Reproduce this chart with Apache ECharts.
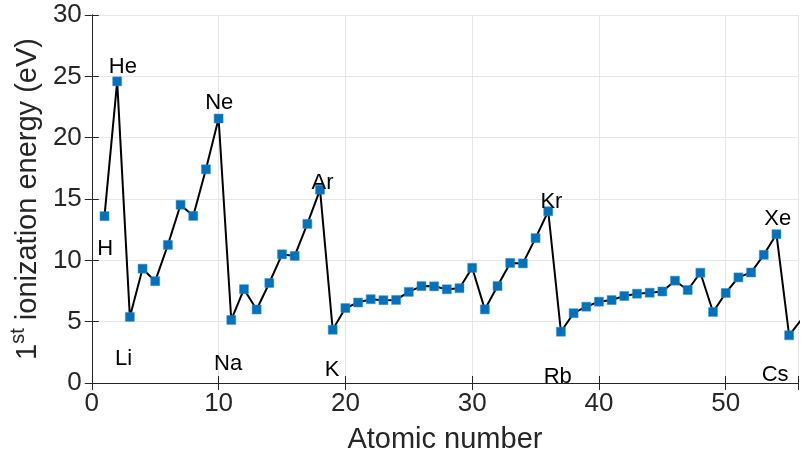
<!DOCTYPE html>
<html>
<head>
<meta charset="utf-8">
<script src="https://cdn.jsdelivr.net/npm/echarts@6/dist/echarts.min.js"></script>
<style>
  html, body { margin: 0; padding: 0; background: #fff; }
  #chart { width: 801px; height: 459px; }
</style>
</head>
<body>
<div id="chart"></div>
<script>
// atomic numbers and first ionization energies (eV)
const atomicNumbers = [1,2,3,4,5,6,7,8,9,10,11,12,13,14,15,16,17,18,19,20,21,22,23,24,25,26,27,28,
  29,30,31,32,33,34,35,36,37,38,39,40,41,42,43,44,45,46,47,48,49,50,51,52,53,54,55,56];
const energies = [13.60,24.59,5.39,9.32,8.30,11.26,14.53,13.62,17.42,21.56,5.14,7.65,5.99,8.15,10.49,
  10.36,12.97,15.76,4.34,6.11,6.56,6.83,6.75,6.77,7.43,7.90,7.88,7.64,7.73,9.39,6.00,7.90,9.79,9.75,
  11.81,14.00,4.18,5.69,6.22,6.63,6.76,7.09,7.28,7.36,7.46,8.34,7.58,8.99,5.79,7.34,8.61,9.01,10.45,
  12.13,3.89,5.21];
// element labels and where they are written (atomic number, eV)
const labelNames = ['H','He','Li','Ne','Na','Ar','K','Kr','Rb','Xe','Cs'];
const labelX = [1.05, 2.45, 2.5, 10.05, 10.75, 18.2, 18.95, 36.25, 36.75, 54.1, 53.9];
const labelY = [10.9, 25.75, 1.95, 22.85, 1.55, 16.3, 1.05, 14.8, 0.5, 13.4, 0.65];

const xTicks = [0, 10, 20, 30, 40, 50];
const yTicks = [0, 5, 10, 15, 20, 25, 30];

const font = 'Liberation Sans, Arial, Helvetica, sans-serif';
const axisColor = '#262626';

let myChart = echarts.init(document.getElementById('chart'));

let lineData = atomicNumbers.map(function (n, i) { return [n, energies[i]]; });
let labelData = labelNames.map(function (s, i) { return [labelX[i], labelY[i], s]; });

let option = {
  animation: false,
  backgroundColor: '#fff',
  grid: { left: 90, right: 0, top: 15, bottom: 71, containLabel: false },
  xAxis: [{
    type: 'value', min: 0, max: 55.7, interval: 10,
    name: 'Atomic number', nameLocation: 'middle', nameGap: 42,
    nameTextStyle: { fontFamily: font, fontSize: 29, color: axisColor },
    axisLine: { show: true, lineStyle: { color: axisColor, width: 1 } },
    axisTick: { show: true, inside: true, length: 7, lineStyle: { color: axisColor } },
    axisLabel: {
      fontFamily: font, fontSize: 26, color: axisColor, margin: 8,
      formatter: function (v) { return xTicks.indexOf(v) >= 0 ? String(v) : ''; }
    },
    splitLine: { show: true, lineStyle: { color: '#e6e6e6', width: 1 } }
  }, {
    type: 'value', position: 'top', min: 0, max: 55.7, interval: 10,
    axisLine: { show: true, lineStyle: { color: axisColor, width: 1 } },
    axisTick: { show: true, inside: true, length: 7, lineStyle: { color: axisColor } },
    axisLabel: { show: false },
    splitLine: { show: false }
  }],
  yAxis: [{
    type: 'value', min: 0, max: 30, interval: 5,
    name: '{n|1}{s|st}{n| ionization energy (eV)}',
    nameLocation: 'middle', nameGap: 46, nameRotate: 90,
    nameTextStyle: {
      rich: {
        n: { fontFamily: font, fontSize: 29, color: axisColor, lineHeight: 34, verticalAlign: 'bottom' },
        s: { fontFamily: font, fontSize: 20, color: axisColor, lineHeight: 34, verticalAlign: 'top' }
      }
    },
    axisLine: { show: true, lineStyle: { color: axisColor, width: 1 } },
    axisTick: { show: true, inside: true, length: 7, lineStyle: { color: axisColor } },
    axisLabel: {
      fontFamily: font, fontSize: 26, color: axisColor, margin: 10,
      formatter: function (v) { return yTicks.indexOf(v) >= 0 ? String(v) : ''; }
    },
    splitLine: { show: true, lineStyle: { color: '#e6e6e6', width: 1 } }
  }, {
    type: 'value', position: 'right', min: 0, max: 30, interval: 5,
    axisLine: { show: true, lineStyle: { color: axisColor, width: 1 } },
    axisTick: { show: true, inside: true, length: 7, lineStyle: { color: axisColor } },
    axisLabel: { show: false },
    splitLine: { show: false }
  }],
  series: [{
    type: 'line',
    data: lineData,
    clip: true,
    symbol: 'rect',
    symbolSize: 9,
    showAllSymbol: true,
    lineStyle: { color: '#000', width: 2 },
    itemStyle: { color: '#0072BD', borderColor: '#3d8fd0', borderWidth: 0.5 },
    z: 3
  }, {
    type: 'scatter',
    data: labelData,
    symbolSize: 0,
    silent: true,
    itemStyle: { opacity: 1 },
    label: {
      show: true, position: 'inside',
      formatter: function (p) { return p.value[2]; },
      fontFamily: font, fontSize: 22, color: '#000', textBorderWidth: 0
    },
    z: 4
  }]
};

myChart.setOption(option);
window.addEventListener('resize', function () { myChart.resize(); });
</script>
</body>
</html>
